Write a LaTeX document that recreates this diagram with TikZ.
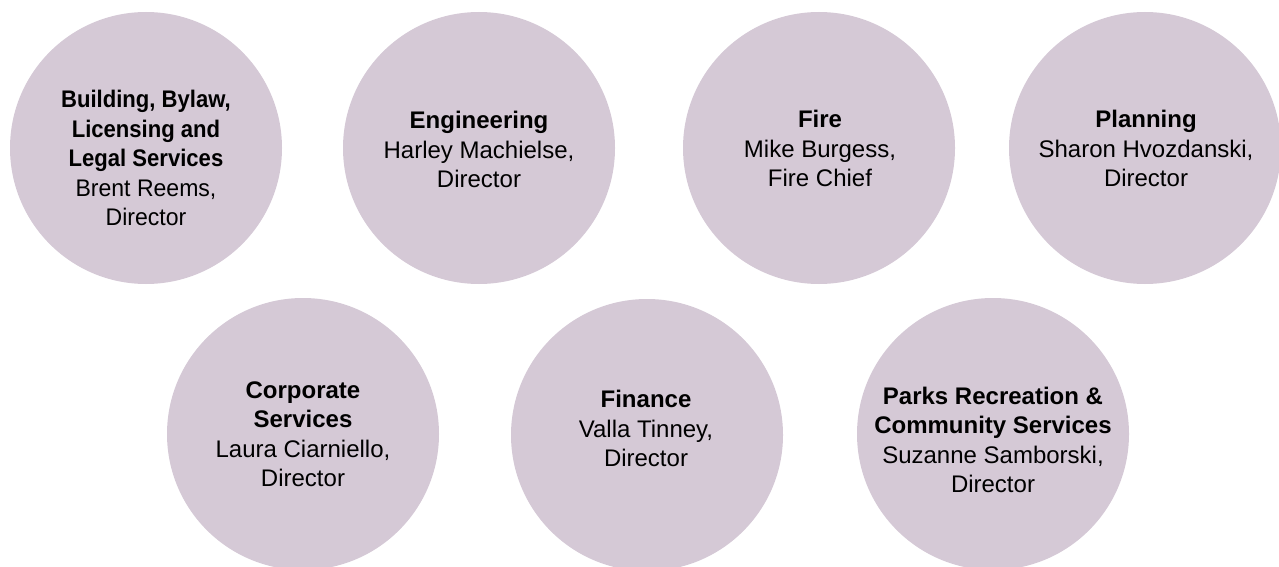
\documentclass[tikz,border=0pt]{standalone}
\usepackage{fontspec}
\setmainfont{Liberation Sans}
\newfontfamily\condbold[FakeStretch=0.92]{Liberation Sans Bold}
\newfontfamily\condreg[FakeStretch=0.96]{Liberation Sans}
\definecolor{mauve}{RGB}{213,201,214}
\begin{document}
\begin{tikzpicture}[x=1pt,y=1pt,
  dept/.style={circle,fill=mauve,minimum size=272pt,inner sep=0pt},
  lbl/.style={anchor=south,align=center,inner sep=0pt,text=black,
    font=\fontsize{24}{29.5}\selectfont}]
\useasboundingbox (0,0) rectangle (1279,566);
% top row (image y -> 566 - y)
\node[dept] (c1) at (146,418) {};
\node[dept] (c2) at (479,418) {};
\node[dept] (c3) at (819,418) {};
\node[dept] (c4) at (1145,418) {};
% bottom row
\node[dept] (c5) at (303,132) {};
\node[dept] (c6) at (647,131) {};
\node[dept] (c7) at (993,132) {};
% labels
\node[lbl] (t1) at (146,340) {{\condbold Building, Bylaw,}\\{\condbold Licensing and}\\{\condbold Legal Services}\\{\condreg Brent Reems,}\\{\condreg Director}};
\node[lbl] (t2) at (479,378) {\textbf{Engineering}\\Harley Machielse,\\Director};
\node[lbl] (t3) at (820,379) {\textbf{Fire}\\Mike Burgess,\\Fire Chief};
\node[lbl] (t4) at (1146,379) {\textbf{Planning}\\Sharon Hvozdanski,\\Director};
\node[lbl] (t5) at (303,79) {\textbf{Corporate}\\\textbf{Services}\\Laura Ciarniello,\\Director};
\node[lbl] (t6) at (646,99) {\textbf{Finance}\\Valla Tinney,\\Director};
\node[lbl] (t7) at (993,73) {\textbf{Parks Recreation \&}\\\textbf{Community Services}\\Suzanne Samborski,\\Director};
\end{tikzpicture}
\end{document}
